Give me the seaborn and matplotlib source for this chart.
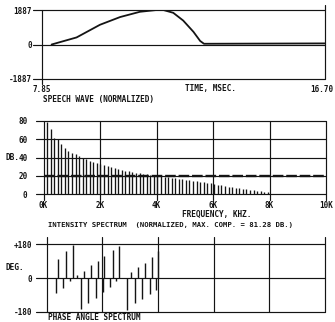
import matplotlib
matplotlib.use("Agg")
import matplotlib.pyplot as plt
import matplotlib.transforms as mtransforms
import seaborn as sns
import pandas as pd
import numpy as np

# ---------------- data ----------------
# Speech wave (normalized), time in msec
wave_time_ms = [8.16, 8.94, 9.67, 10.30, 10.92, 11.44, 11.65, 11.96, 12.27, 12.59, 12.80, 12.92, 16.70]
wave_amp = [0, 387, 1079, 1502, 1790, 1887, 1887, 1733, 1310, 694, 194, 40, 60]
wave_yticks = [-1887, 0, 1887]
wave_xticks = [7.85, 16.70]
wave_xticklabels = ["7.85", "16.70"]

# Intensity spectrum: harmonic amplitudes in dB (harmonics 1..63)
F0_KHZ = 0.126
harmonic_no = list(range(1, 64))
spec_db = [79, 71, 61.5, 60, 54.3, 50.7, 47, 45.2, 43.5, 41.3,
           39, 38, 36.2, 34.8, 34, 33, 31.8, 30.8, 30, 29,
           27.5, 26.4, 25.7, 25, 24.2, 23.5, 22.8, 22, 21.7, 21,
           20.5, 20, 19.5, 18.5, 18.3, 18, 17.5, 16.8, 16.3, 15.8,
           15.2, 14.5, 14, 13.5, 13, 12.5, 12, 11.2, 10.5, 10,
           9.4, 8.3, 7.6, 7, 6.5, 6, 5.5, 5, 4.7, 4,
           3.5, 2.8, 2]
spec_yticks = [0, 20, 40, 60, 80]
spec_xticks = [0, 2, 4, 6, 8, 10]
spec_xticklabels = ["0K", "2K", "4K", "6K", "8K", "10K"]
threshold_db = 20

# Phase angle spectrum (kHz, degrees)
phase_khz = [0.324, 0.417, 0.576, 0.683, 0.838, 0.935, 1.101, 1.245, 1.342, 1.496,
             1.583, 1.763, 1.856, 2.014, 2.061, 2.277, 2.374, 2.493, 2.612, 2.899,
             3.022, 3.165, 3.273, 3.417, 3.536, 3.705, 3.788, 3.932, 3.990]
phase_deg = [-80, 103, -53, 143, -14, 175, 14, -164, 36, -134,
             68, -107, 93, -75, 116, -50, 151, -18, 170, -170,
             32, -134, 57, -112, 80, -86, 111, -63, 143]
phase_yticks = [-180, 0, 180]
phase_yticklabels = ["-180", "0", "+180"]

# ---------------- styling ----------------
sns.set_style("white")
plt.rcParams["font.family"] = ["DejaVu Sans Mono", "DejaVu Sans"]
plt.rcParams["font.weight"] = "bold"
INK = "#141414"
FS = 5.6
LW = 0.85

W, H = 335, 322
fig = plt.figure(figsize=(W / 100, H / 100), dpi=100)
fig.patch.set_facecolor("white")


def px_axes(l, t, r, b):
    return fig.add_axes([l / W, 1 - b / H, (r - l) / W, (b - t) / H])


def ftext(x, y, s, ha="left", size=FS):
    fig.text(x / W, 1 - y / H, s, ha=ha, va="center", fontsize=size,
             color=INK, fontweight="bold")


def clean(ax):
    for s in ax.spines.values():
        s.set_visible(False)
    ax.set_facecolor("white")
    ax.tick_params(length=0, colors=INK, labelsize=5.5)
    ax.set_xlabel("")
    ax.set_ylabel("")


# ---------------- panel 1: speech wave ----------------
l1, t1, r1, b1 = 41.7, 10, 325, 79
ax1 = px_axes(l1, t1, r1, b1)
wdf = pd.DataFrame({"t": wave_time_ms, "a": wave_amp})
sns.lineplot(data=wdf, x="t", y="a", ax=ax1, color=INK, lw=1.3, zorder=3)
ax1.set_xlim(7.85, 16.70)
ax1.set_ylim(-1887, 1887)
clean(ax1)
w1, h1 = r1 - l1, b1 - t1
for yv in wave_yticks:
    ax1.axhline(yv, xmin=-8.5 / w1, xmax=1, clip_on=False, color=INK, lw=LW)
ax1.axvline(7.85, ymin=-5 / h1, ymax=1, clip_on=False, color=INK, lw=LW)
ax1.axvline(16.70, ymin=0, ymax=1 + 5 / h1, clip_on=False, color=INK, lw=LW)
ax1.set_yticks(wave_yticks, [str(v) for v in wave_yticks])
ax1.set_xticks(wave_xticks, wave_xticklabels)
ax1.tick_params(axis="y", pad=9.7 * 0.72)
ax1.tick_params(axis="x", pad=6.5 * 0.72)
last_lbl = ax1.get_xticklabels()[-1]
last_lbl.set_horizontalalignment("right")
last_lbl.set_transform(last_lbl.get_transform() +
                       mtransforms.ScaledTranslation(8.5 / 100, 0, fig.dpi_scale_trans))
ftext(185, 89, "TIME, MSEC.")
ftext(43, 100, "SPEECH WAVE (NORMALIZED)")

# ---------------- panel 2: intensity spectrum ----------------
l2, t2, r2, b2 = 43.5, 120.7, 326, 194.3
ax2 = px_axes(l2, t2, r2, b2)
w2, h2 = r2 - l2, b2 - t2
sdf = pd.DataFrame({"f": np.array(harmonic_no) * F0_KHZ, "db": spec_db})
ax2.vlines(sdf["f"], 0, sdf["db"], color=INK, lw=0.95, zorder=3)
ax2.set_xlim(0, 10)
ax2.set_ylim(0, 80)
clean(ax2)
for yv in spec_yticks:
    ax2.axhline(yv, xmin=-7.5 / w2, xmax=1, clip_on=False, color=INK, lw=LW, zorder=2)
for xv in spec_xticks:
    ax2.axvline(xv, ymin=-6 / h2, ymax=1, clip_on=False, color=INK, lw=LW, zorder=2)
ax2.axhline(threshold_db, xmin=0, xmax=1, color=INK, lw=1.7,
            dashes=(4.5, 1.2), zorder=4)
ax2.set_yticks(spec_yticks, [str(v) for v in spec_yticks])
ax2.set_xticks(spec_xticks, spec_xticklabels)
ax2.tick_params(axis="y", pad=16 * 0.72)
ax2.tick_params(axis="x", pad=7 * 0.72)
ftext(5, 157, "DB.")
ftext(182, 214, "FREQUENCY, KHZ.")
ftext(48, 225, "INTENSITY SPECTRUM  (NORMALIZED, MAX. COMP. = 81.28 DB.)", size=5.25)

# ---------------- panel 3: phase angle spectrum ----------------
l3, t3, r3, b3 = 46.7, 244.3, 325, 311.7
ax3 = px_axes(l3, t3, r3, b3)
w3, h3 = r3 - l3, b3 - t3
pdf = pd.DataFrame({"f": phase_khz, "deg": phase_deg})
ax3.vlines(pdf["f"], 0, pdf["deg"], color=INK, lw=1.0, zorder=3)
ax3.set_xlim(0, 10)
ax3.set_ylim(-180, 180)
clean(ax3)
for yv in phase_yticks:
    ax3.axhline(yv, xmin=-11 / w3, xmax=1, clip_on=False, color=INK, lw=LW, zorder=2)
for xv in spec_xticks:
    ax3.axvline(xv, ymin=0, ymax=1 + 7.5 / h3, clip_on=False, color=INK, lw=LW, zorder=2)
ax3.set_yticks(phase_yticks, phase_yticklabels)
ax3.set_xticks([])
ax3.tick_params(axis="y", pad=14.5 * 0.72)
ftext(5, 268, "DEG.")
ftext(48, 318, "PHASE ANGLE SPECTRUM")

fig.savefig("out.png", dpi=100, facecolor="white")
